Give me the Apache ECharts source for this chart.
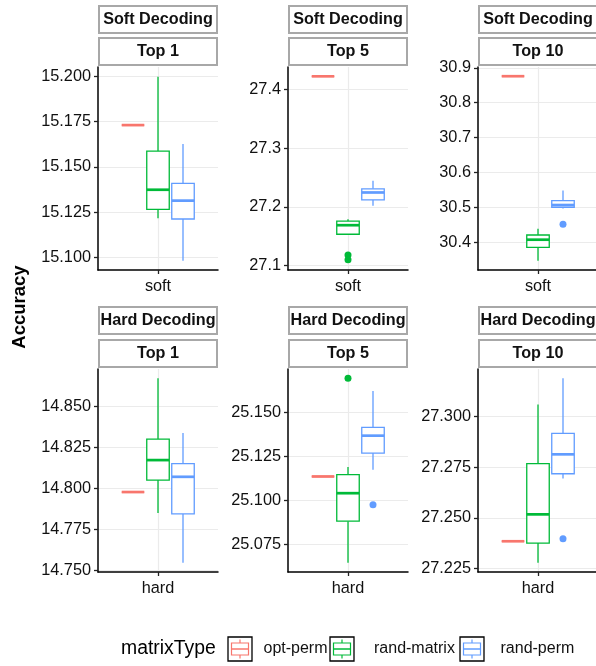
<!DOCTYPE html>
<html>
<head>
<meta charset="utf-8">
<script src="https://cdn.jsdelivr.net/npm/echarts@6/dist/echarts.min.js"></script>
<style>
html,body{margin:0;padding:0;background:#fff;}
#chart{width:596px;height:666px;}
</style>
</head>
<body>
<div id="chart"></div>
<script>
// ---------- data ----------
const rowLabels = ['Soft Decoding', 'Hard Decoding'];
const colLabels = ['Top 1', 'Top 5', 'Top 10'];
const xCategories = ['soft', 'hard'];
const matrixTypes = ['opt-perm', 'rand-matrix', 'rand-perm'];
const typeColors = ['#F8766D', '#00BA38', '#619CFF'];

// five-number summaries per matrixType: [min, q1, median, q3, max]
const softTop1 = [
  [15.173, 15.173, 15.173, 15.173, 15.173],
  [15.1217, 15.1266, 15.1374, 15.1587, 15.1996],
  [15.0983, 15.1213, 15.1314, 15.1409, 15.1626]
];
const softTop5 = [
  [27.4228, 27.4228, 27.4228, 27.4228, 27.4228],
  [27.152, 27.1535, 27.1689, 27.1757, 27.179],
  [27.2019, 27.2121, 27.2247, 27.2309, 27.2446]
];
const softTop10 = [
  [30.876, 30.876, 30.876, 30.876, 30.876],
  [30.3473, 30.3856, 30.4077, 30.4211, 30.4393],
  [30.497, 30.5006, 30.507, 30.5197, 30.5485]
];
const hardTop1 = [
  [14.7978, 14.7978, 14.7978, 14.7978, 14.7978],
  [14.785, 14.8051, 14.8173, 14.8301, 14.8673],
  [14.7547, 14.7845, 14.8071, 14.8152, 14.8339]
];
const hardTop5 = [
  [25.1137, 25.1137, 25.1137, 25.1137, 25.1137],
  [25.0647, 25.0883, 25.1042, 25.1147, 25.1191],
  [25.1175, 25.127, 25.1369, 25.1416, 25.1623]
];
const hardTop10 = [
  [27.2384, 27.2384, 27.2384, 27.2384, 27.2384],
  [27.2278, 27.2375, 27.2517, 27.2768, 27.3061],
  [27.2695, 27.2718, 27.2814, 27.2918, 27.319]
];

// outliers per matrixType
const softTop1Out = [[], [], []];
const softTop5Out = [[], [27.118, 27.110], []];
const softTop10Out = [[], [], [30.4517]];
const hardTop1Out = [[], [], []];
const hardTop5Out = [[], [25.1696], [25.0976]];
const hardTop10Out = [[], [], [27.2397]];

// y tick labels
const softTop1Ticks = ['15.100', '15.125', '15.150', '15.175', '15.200'];
const softTop5Ticks = ['27.1', '27.2', '27.3', '27.4'];
const softTop10Ticks = ['30.4', '30.5', '30.6', '30.7', '30.8', '30.9'];
const hardTop1Ticks = ['14.750', '14.775', '14.800', '14.825', '14.850'];
const hardTop5Ticks = ['25.075', '25.100', '25.125', '25.150'];
const hardTop10Ticks = ['27.225', '27.250', '27.275', '27.300'];

// y axis limits
const softTop1Range = [15.0932, 15.205];
const softTop5Range = [27.0925, 27.4387];
const softTop10Range = [30.3209, 30.9024];
const hardTop1Range = [14.749, 14.8729];
const hardTop5Range = [25.0594, 25.1748];
const hardTop10Range = [27.2232, 27.3236];

// ---------- assembly ----------
const panels = [
  {row: 0, col: 0, box: softTop1, out: softTop1Out, ticks: softTop1Ticks, range: softTop1Range},
  {row: 0, col: 1, box: softTop5, out: softTop5Out, ticks: softTop5Ticks, range: softTop5Range},
  {row: 0, col: 2, box: softTop10, out: softTop10Out, ticks: softTop10Ticks, range: softTop10Range},
  {row: 1, col: 0, box: hardTop1, out: hardTop1Out, ticks: hardTop1Ticks, range: hardTop1Range},
  {row: 1, col: 1, box: hardTop5, out: hardTop5Out, ticks: hardTop5Ticks, range: hardTop5Range},
  {row: 1, col: 2, box: hardTop10, out: hardTop10Out, ticks: hardTop10Ticks, range: hardTop10Range}
];

const FONT = '"Liberation Sans", Arial, Helvetica, sans-serif';
const panelLeft = [98, 288, 478];
const panelTop = [67, 369];
const panelW = 120, panelH = 203;
const X_CENTER = 0.6, DODGE = 0.25, HALF_BOX = 0.1125;

const grids = [], xAxes = [], yAxes = [], series = [], graphics = [];

function renderBox(params, api) {
  const x = api.value(0);
  const mn = api.value(1), q1 = api.value(2), md = api.value(3), q3 = api.value(4), mx = api.value(5);
  const color = api.visual('color');
  const c = v => api.coord([x, v]);
  const tl = api.coord([x - HALF_BOX, q3]);
  const br = api.coord([x + HALF_BOX, q1]);
  const ml = api.coord([x - HALF_BOX, md]);
  const mr = api.coord([x + HALF_BOX, md]);
  const lw = 1.3;
  return {
    type: 'group',
    children: [
      {type: 'line', shape: {x1: c(mx)[0], y1: c(mx)[1], x2: c(q3)[0], y2: c(q3)[1]}, style: {stroke: color, lineWidth: lw}},
      {type: 'line', shape: {x1: c(q1)[0], y1: c(q1)[1], x2: c(mn)[0], y2: c(mn)[1]}, style: {stroke: color, lineWidth: lw}},
      {type: 'rect', shape: {x: tl[0], y: tl[1], width: br[0] - tl[0], height: br[1] - tl[1]}, style: {fill: '#fff', stroke: color, lineWidth: lw}},
      {type: 'line', shape: {x1: ml[0], y1: ml[1], x2: mr[0], y2: mr[1]}, style: {stroke: color, lineWidth: 2.7}}
    ]
  };
}

panels.forEach((p, i) => {
  const left = panelLeft[p.col], top = panelTop[p.row];
  grids.push({left: left, top: top, width: panelW, height: panelH, containLabel: false, outerBoundsMode: 'none'});
  const tickVals = p.ticks.map(Number);
  xAxes.push({
    gridIndex: i, type: 'value', min: 0, max: 1.2,
    axisLine: {show: true, onZero: false, lineStyle: {color: '#000', width: 1.5}},
    axisTick: {show: true, customValues: [X_CENTER], length: 4, lineStyle: {color: '#222', width: 1.3}},
    axisLabel: {show: true, customValues: [X_CENTER], formatter: () => xCategories[p.row], fontSize: 16.3, color: '#111', margin: 9, fontFamily: FONT},
    splitLine: {show: true, lineStyle: {color: '#ebebeb', width: 1.2}}
  });
  yAxes.push({
    gridIndex: i, type: 'value', min: p.range[0], max: p.range[1],
    axisLine: {show: true, onZero: false, lineStyle: {color: '#000', width: 1.5}},
    axisTick: {show: true, customValues: tickVals, length: 4, lineStyle: {color: '#222', width: 1.3}},
    axisLabel: {show: true, customValues: tickVals, fontSize: 16.3, color: '#111', margin: 7, fontFamily: FONT,
      formatter: v => { const k = tickVals.findIndex(t => Math.abs(t - v) < 1e-7); return k >= 0 ? p.ticks[k] : ''; }},
    splitLine: {show: true, lineStyle: {color: '#ebebeb', width: 1.2}}
  });
  matrixTypes.forEach((t, k) => {
    const x = X_CENTER + (k - 1) * DODGE;
    series.push({
      name: t, type: 'custom', xAxisIndex: i, yAxisIndex: i,
      itemStyle: {color: typeColors[k]},
      encode: {x: 0, y: [1, 2, 3, 4, 5]},
      renderItem: renderBox,
      data: [[x].concat(p.box[k])],
      z: 3
    });
    if (p.out[k].length) {
      series.push({
        name: t, type: 'scatter', xAxisIndex: i, yAxisIndex: i,
        symbol: 'circle', symbolSize: 7,
        itemStyle: {color: typeColors[k], opacity: 1},
        data: p.out[k].map(v => [x, v]),
        z: 4
      });
    }
  });
  // strips
  const stripY = p.row === 0 ? [6, 38] : [307, 340];
  [rowLabels[p.row], colLabels[p.col]].forEach((lab, s) => {
    graphics.push({type: 'rect', shape: {x: left + 1, y: stripY[s], width: panelW - 2, height: 27},
      style: {fill: '#fff', stroke: '#a8a8a8', lineWidth: 2}});
    graphics.push({type: 'text', x: left + panelW / 2, y: stripY[s] + 14,
      style: {text: lab, fill: '#111', font: 'bold 16.2px ' + FONT, textAlign: 'center', textVerticalAlign: 'middle'}});
  });
});

// y axis title
graphics.push({type: 'text', x: 20, y: 307, rotation: Math.PI / 2,
  style: {text: 'Accuracy', fill: '#000', font: 'bold 18.5px ' + FONT, textAlign: 'center', textVerticalAlign: 'middle'}});

// legend
const legendY = 649;
graphics.push({type: 'text', x: 121, y: legendY,
  style: {text: 'matrixType', fill: '#000', font: '19.4px ' + FONT, textAlign: 'left', textVerticalAlign: 'middle'}});
const keyX = [228, 330, 460];
const labelX = [263.5, 374, 500.5];
matrixTypes.forEach((t, k) => {
  const x0 = keyX[k], y0 = legendY - 12, s = 24;
  const col = typeColors[k];
  graphics.push({type: 'rect', shape: {x: x0, y: y0, width: s, height: s}, style: {fill: '#fff', stroke: '#000', lineWidth: 1.3}});
  graphics.push({type: 'line', shape: {x1: x0 + s / 2, y1: y0 + 2.5, x2: x0 + s / 2, y2: y0 + s - 2.5}, style: {stroke: col, lineWidth: 1.2}});
  graphics.push({type: 'rect', shape: {x: x0 + 3.5, y: y0 + 6, width: s - 7, height: s - 12}, style: {fill: '#fff', stroke: col, lineWidth: 1.2}});
  graphics.push({type: 'line', shape: {x1: x0 + 3.5, y1: y0 + s / 2, x2: x0 + s - 3.5, y2: y0 + s / 2}, style: {stroke: col, lineWidth: 1.5}});
  graphics.push({type: 'text', x: labelX[k], y: legendY,
    style: {text: t, fill: '#111', font: '16px ' + FONT, textAlign: 'left', textVerticalAlign: 'middle'}});
});

const chart = echarts.init(document.getElementById('chart'), null, {renderer: 'canvas'});
chart.setOption({
  animation: false,
  backgroundColor: '#fff',
  grid: grids,
  xAxis: xAxes,
  yAxis: yAxes,
  series: series,
  graphic: {elements: graphics}
});
</script>
</body>
</html>
